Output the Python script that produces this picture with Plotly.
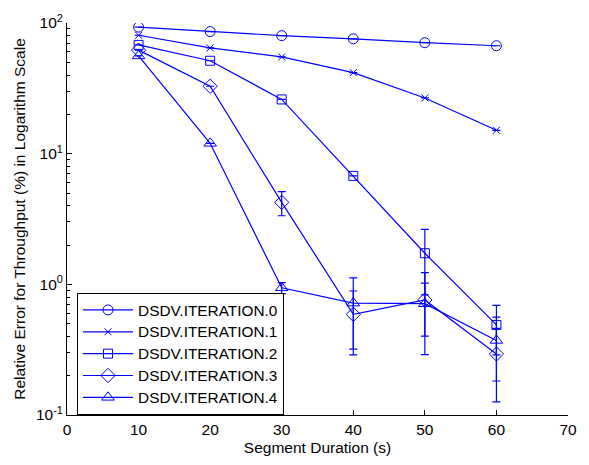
import plotly.graph_objects as go

durations = [10, 20, 30, 40, 50, 60]

iter0 = [93, 86, 80, 75.7, 70.7, 67]
iter1 = [80.6, 64.5, 55, 41.7, 26.7, 15.1]
iter2 = [68, 51.4, 26, 6.76, 1.73, 0.489]
iter3 = [62, 32.8, 4.24, 0.589, 0.76, 0.293]
iter4 = [56, 12.0, 0.94, 0.719, 0.711, 0.372]

err0 = [0, 0, 0, 0, 0, 0]
err1 = [0, 0, 0, 0, 0, 0]
err2 = [0, 0, 0, 0, 0.9, 0.2]
err3 = [0, 0, 0.89, 0.30, 0.47, 0.167]
err4 = [0, 0, 0.09, 0.40, 0.31, 0.19]

names = ["DSDV.ITERATION.0", "DSDV.ITERATION.1", "DSDV.ITERATION.2",
         "DSDV.ITERATION.3", "DSDV.ITERATION.4"]
series = [iter0, iter1, iter2, iter3, iter4]
errors = [err0, err1, err2, err3, err4]
symbols = ["circle-open", "x-thin-open", "square-open", "diamond-open", "triangle-up-open"]
sizes = [10, 7, 9, 11, 11]

x_ticks = [0, 10, 20, 30, 40, 50, 60, 70]
y_ticks = [0.1, 1, 10, 100]
y_ticktext = ["10<sup>-1</sup>", "10<sup>0</sup>", "10<sup>1</sup>", "10<sup>2</sup>"]
y_minor = [m * 10 ** e for e in (-1, 0, 1) for m in range(2, 10)]

BLUE = "rgb(0,0,255)"
FONT = "Liberation Sans, Arial, Helvetica, sans-serif"
FS = 15.5

fig = go.Figure()
for name, ys, es, sym, sz in zip(names, series, errors, symbols, sizes):
    fig.add_trace(go.Scatter(
        x=durations, y=ys, name="<span style='font-size:15.4px'>%s</span>" % name,
        mode="lines+markers",
        line=dict(color=BLUE, width=1.2),
        marker=dict(symbol=sym, size=sz, color=BLUE, line=dict(color=BLUE, width=1)),
        error_y=dict(type="data", array=es, symmetric=True, color=BLUE,
                     thickness=1.2, width=4, visible=True),
    ))

fig.update_layout(
    width=589, height=465,
    margin=dict(l=67, r=17, t=18, b=42),
    paper_bgcolor="white", plot_bgcolor="white",
    font=dict(family=FONT, size=FS, color="black"),
    showlegend=True,
    legend=dict(
        x=0.02, y=0.0, xanchor="left", yanchor="bottom",
        bgcolor="white", bordercolor="black", borderwidth=1,
        font=dict(family=FONT, size=14.5, color="black"),
        itemwidth=50, tracegroupgap=0,
    ),
    xaxis=dict(
        range=[0, 70], tickmode="array", tickvals=x_ticks,
        ticks="inside", ticklen=5, tickcolor="black", tickwidth=1,
        showline=True, linecolor="black", linewidth=1,
        showgrid=False, zeroline=False, mirror=False,
        tickfont=dict(family=FONT, size=FS),
        title=dict(text="Segment Duration (s)", font=dict(family=FONT, size=FS), standoff=5),
    ),
    yaxis=dict(
        type="log", range=[-1, 2], tickmode="array", tickvals=y_ticks, ticktext=y_ticktext,
        ticks="inside", ticklen=5, tickcolor="black", tickwidth=1,
        minor=dict(tickmode="array", tickvals=y_minor, ticks="inside", ticklen=3,
                   tickcolor="black", tickwidth=1, showgrid=False),
        showline=True, linecolor="black", linewidth=1,
        showgrid=False, zeroline=False, mirror=False,
        tickfont=dict(family=FONT, size=FS),
        title=dict(text="Relative Error for Throughput (%) in Logarithm Scale",
                   font=dict(family=FONT, size=FS), standoff=6),
    ),
)

fig.write_html("out.html")
